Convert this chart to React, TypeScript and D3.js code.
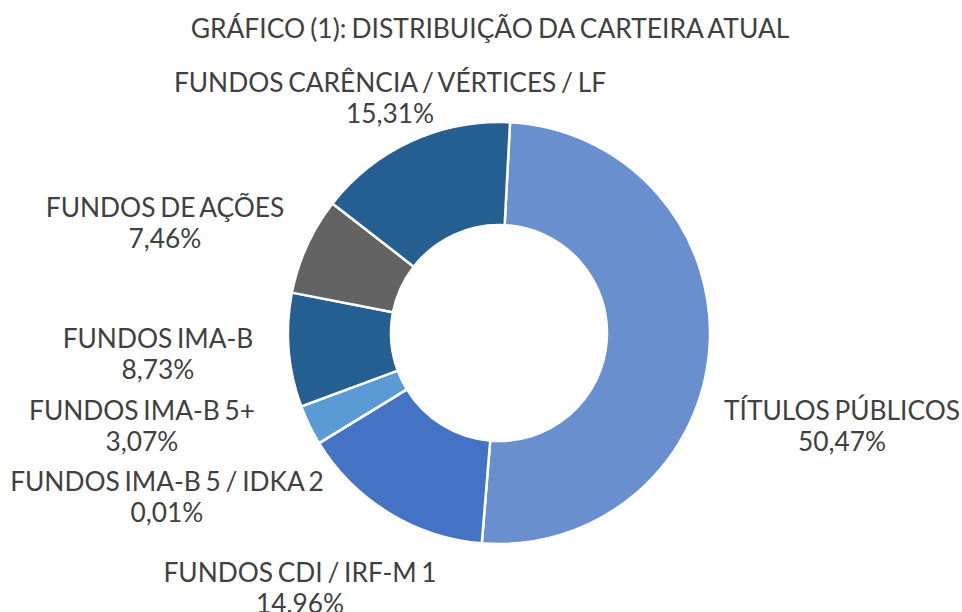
import React from "react";
import * as d3 from "d3";

const categories = [
  "TÍTULOS PÚBLICOS",
  "FUNDOS CDI / IRF-M 1",
  "FUNDOS IMA-B 5 / IDKA 2",
  "FUNDOS IMA-B 5+",
  "FUNDOS IMA-B",
  "FUNDOS DE AÇÕES",
  "FUNDOS CARÊNCIA / VÉRTICES / LF",
];
const values = [50.47, 14.96, 0.01, 3.07, 8.73, 7.46, 15.31];
const valueLabels = ["50,47%", "14,96%", "0,01%", "3,07%", "8,73%", "7,46%", "15,31%"];
const colors = ["#6A8FCF", "#4472C4", "#A5A5A5", "#5B9BD5", "#255E91", "#636363", "#255E91"];
const title = "GRÁFICO (1): DISTRIBUIÇÃO DA CARTEIRA ATUAL";

// label centres relative to the donut centre (Excel manual placement)
const labelOffsets: [number, number][] = [
  [343, 92],
  [-199, 254],
  [-332, 163],
  [-357, 92],
  [-341, 20],
  [-334, -111],
  [-109, -236],
];

const W = 962;
const H = 612;

export default function App() {
  const cx = 499;
  const cy = 333;
  const R = 211;
  const r = 108;
  const startDeg = 3;
  const total = d3.sum(values);
  const pie = d3
    .pie<number>()
    .sort(null)
    .value((d) => d)
    .startAngle((startDeg * Math.PI) / 180)
    .endAngle((startDeg * Math.PI) / 180 + 2 * Math.PI * (total / 100));
  const arcs = pie(values);
  const arc = d3.arc<d3.PieArcDatum<number>>().innerRadius(r).outerRadius(R);
  const font = "Lato, 'Open Sans', sans-serif";
  const textColor = "#404040";
  const fs = 26.3;
  const lh = 31;

  return (
    <svg
      width={W}
      height={H}
      style={{ display: "block", position: "absolute", left: 0, top: 0 }}
    >
      <rect width={W} height={H} fill="#fff" />
      <text
        x={490}
        y={28}
        textAnchor="middle"
        dominantBaseline="central"
        fontFamily={font}
        fontSize={26.4}
        fill={textColor}
        wordSpacing={-1.5}
      >
        {title}
      </text>
      <g transform={`translate(${cx},${cy})`}>
        {arcs.map((a, i) => (
          <path key={i} d={arc(a) || ""} fill={colors[i]} stroke="#fff" strokeWidth={2.5} />
        ))}
        {arcs.map((a, i) => {
          const [dx, dy] = labelOffsets[i];
          return (
            <text
              key={"l" + i}
              textAnchor="middle"
              fontFamily={font}
              fontSize={fs}
              fill={textColor}
              wordSpacing={-2}
            >
              <tspan x={dx} y={dy - lh / 2} dominantBaseline="central">
                {categories[i]}
              </tspan>
              <tspan x={dx} y={dy + lh / 2} dominantBaseline="central">
                {valueLabels[i]}
              </tspan>
            </text>
          );
        })}
      </g>
    </svg>
  );
}
